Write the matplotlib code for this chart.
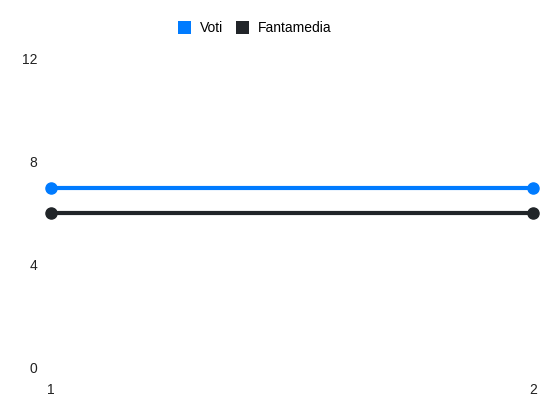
import matplotlib.pyplot as plt
from matplotlib.patches import Patch

# Data
giornate = [1, 2]
voti = [7, 7]
fantamedia = [6, 6]
y_ticks = [0, 4, 8, 12]

col_voti = '#007bff'
col_fm = '#212529'

plt.rcParams['font.family'] = ['Liberation Sans', 'DejaVu Sans']

fig = plt.figure(figsize=(5.5, 4.12), dpi=100)
ax = fig.add_axes([0.0927, 0.1068, 0.8764, 0.75])

ax.plot(giornate, voti, color=col_voti, linewidth=3, marker='o', markersize=8,
        solid_capstyle='butt', clip_on=False)
ax.plot(giornate, fantamedia, color=col_fm, linewidth=3, marker='o', markersize=8,
        solid_capstyle='butt', clip_on=False)

ax.set_xlim(1, 2)
ax.set_ylim(0, 12)
ax.set_xticks(giornate)
ax.set_yticks(y_ticks)
ax.tick_params(axis='both', length=0, labelsize=10, colors='#222222')
ax.tick_params(axis='y', pad=10)
ax.tick_params(axis='x', pad=11)
for s in ax.spines.values():
    s.set_visible(False)

handles = [Patch(facecolor=col_voti, edgecolor='none', label='Voti'),
           Patch(facecolor=col_fm, edgecolor='none', label='Fantamedia')]
fig.legend(handles=handles, loc='center', bbox_to_anchor=(255 / 550, 1 - 28 / 412),
           ncol=2, frameon=False, fontsize=10, handlelength=0.95, handleheight=1.1,
           handletextpad=0.65, columnspacing=0.9)

fig.savefig('out.png', dpi=100)
